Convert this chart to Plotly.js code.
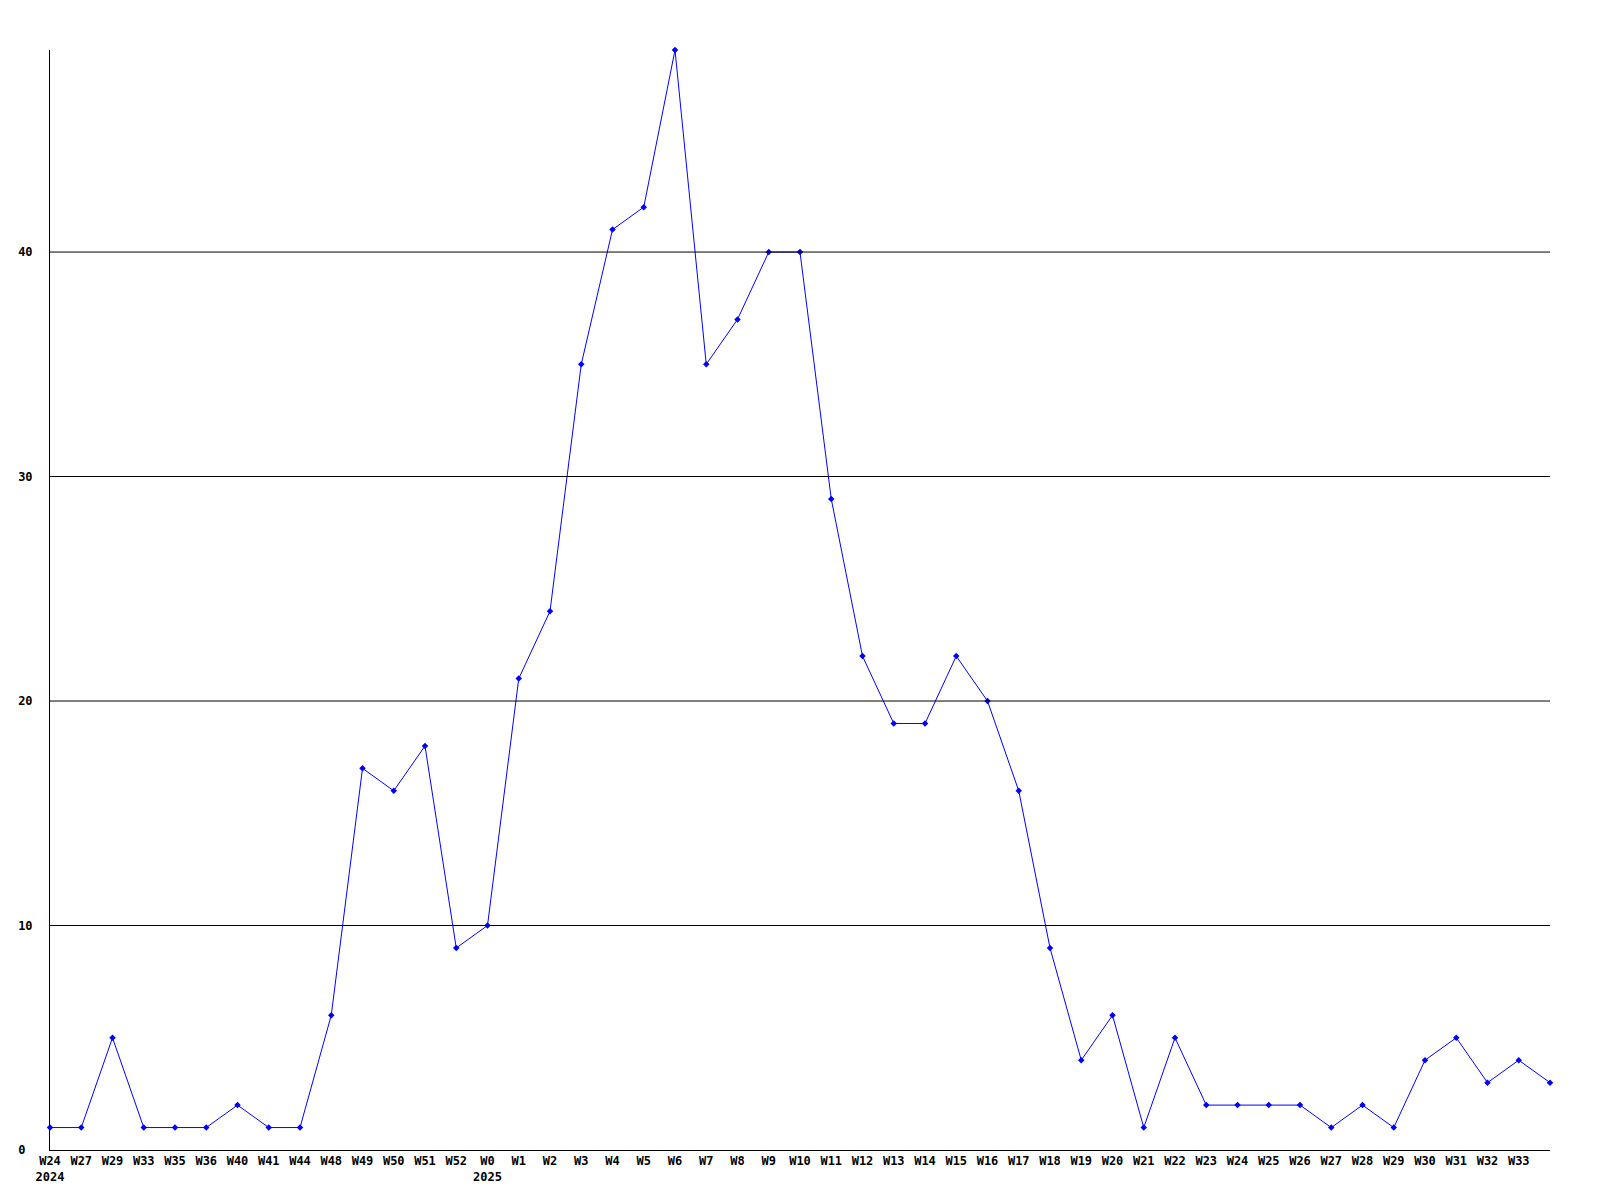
<!DOCTYPE html>
<html>
<head>
<meta charset="utf-8">
<script src="https://cdn.plot.ly/plotly-3.0.1.min.js"></script>
<style>html,body{margin:0;padding:0;background:#fff;}#chart{width:1600px;height:1200px;}</style>
</head>
<body>
<div id="chart"></div>
<script>
// Week labels (last point has no visible label)
const weeks = ["W24","W27","W29","W33","W35","W36","W40","W41","W44","W48","W49","W50","W51","W52",
  "W0","W1","W2","W3","W4","W5","W6","W7","W8","W9","W10","W11","W12","W13","W14","W15","W16","W17",
  "W18","W19","W20","W21","W22","W23","W24","W25","W26","W27","W28","W29","W30","W31","W32","W33",""];
const yearLabels = {0: "2024", 14: "2025"};
const counts = [1,1,5,1,1,1,2,1,1,6,17,16,18,9,
  10,21,24,35,41,42,49,35,37,40,40,29,22,19,19,22,20,16,
  9,4,6,1,5,2,2,2,2,1,2,1,4,5,3,4,3];
const yTicks = [0,10,20,30,40];
const gridValues = [10,20,30,40];

const xIdx = counts.map((_, i) => i);
const labelIdx = weeks.map((w, i) => i).filter(i => weeks[i] !== "");
const tickText = labelIdx.map(i => yearLabels[i] ? weeks[i] + "<br>" + yearLabels[i] : weeks[i]);

const tfont = {family: "DejaVu Sans Mono", size: 12, color: "#000", weight: "bold"};

const trace = {
  x: xIdx, y: counts, type: "scatter", mode: "lines+markers",
  line: {color: "#0000ff", width: 1},
  marker: {color: "#0000ff", size: 5, symbol: "diamond"},
  hoverinfo: "skip", cliponaxis: false
};

const shapes = gridValues.map(v => ({
  type: "line", xref: "paper", yref: "y", x0: 0, x1: 1, y0: v, y1: v,
  line: {color: "#000", width: 1}, layer: "above"
}));

const layout = {
  width: 1600, height: 1200,
  margin: {l: 50, r: 50, t: 50, b: 50},
  paper_bgcolor: "#fff", plot_bgcolor: "#fff",
  showlegend: false,
  font: {family: "DejaVu Sans Mono", size: 12, color: "#000"},
  xaxis: {
    range: [0, 48], tickmode: "array", tickvals: labelIdx, ticktext: tickText,
    showgrid: false, zeroline: false, showline: true, linecolor: "#000", linewidth: 1,
    ticks: "", tickfont: tfont, tickangle: 0, fixedrange: true
  },
  yaxis: {
    range: [0, 49], tickmode: "array", tickvals: yTicks,
    ticktext: yTicks.map(v => v < 10 ? v + "\u00a0" : String(v)),
    showgrid: false, zeroline: false, showline: true, linecolor: "#000", linewidth: 1,
    ticks: "", ticklabelstandoff: 14, tickfont: tfont, fixedrange: true
  },
  shapes: shapes
};

Plotly.newPlot("chart", [trace], layout, {staticPlot: true, displayModeBar: false});
</script>
</body>
</html>
